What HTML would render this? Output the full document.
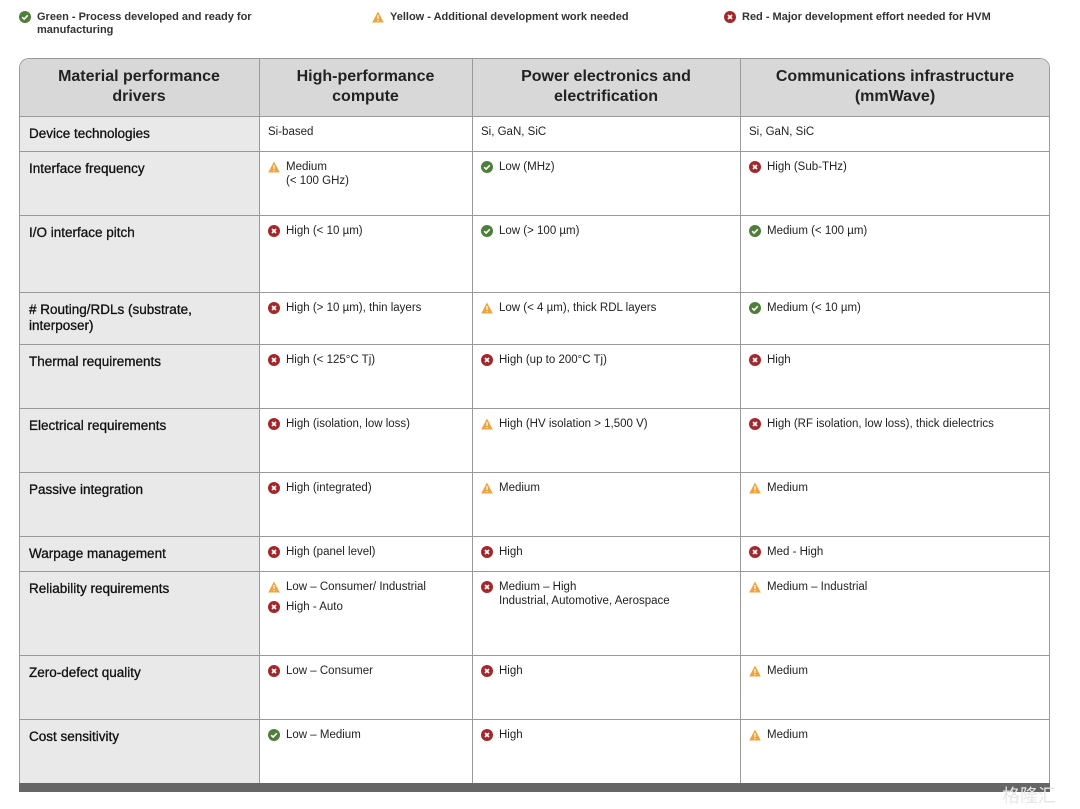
<!DOCTYPE html>
<html><head><meta charset="utf-8">
<style>
body{margin:0;width:1080px;height:809px;background:#fff;font-family:"Liberation Sans",sans-serif;color:#222;position:relative;overflow:hidden}
.abs{position:absolute}
.leg{font-size:11px;line-height:13px;font-weight:bold;color:#333}
.ic{position:absolute;width:12px;height:12px}
.hdr{font-size:16px;font-weight:bold;text-align:center;line-height:20px;color:#222}
.lbl{font-size:13.5px;color:#111;line-height:16px;font-weight:normal;-webkit-text-stroke:0.3px #111}
.cell{font-size:11.5px;line-height:14px;color:#222}
</style></head><body>
<div id="root"></div>
<script>
const colX=[19,259,472,740,1050];
const rowY=[58,116,151,215,292,344,408,472,536,571,655,719,783];
const headers=["Material performance<br>drivers","High-performance<br>compute","Power electronics and<br>electrification","Communications infrastructure<br>(mmWave)"];
const labels=["Device technologies","Interface frequency","I/O interface pitch","# Routing/RDLs (substrate,<br>interposer)","Thermal requirements","Electrical requirements","Passive integration","Warpage management","Reliability requirements","Zero-defect quality","Cost sensitivity"];
const cells=[
[[["","Si-based"]],[["","Si, GaN, SiC"]],[["","Si, GaN, SiC"]]],
[[["y","Medium<br>(< 100 GHz)"]],[["g","Low (MHz)"]],[["r","High (Sub-THz)"]]],
[[["r","High (< 10 µm)"]],[["g","Low (> 100 µm)"]],[["g","Medium (< 100 µm)"]]],
[[["r","High (> 10 µm), thin layers"]],[["y","Low (< 4 µm), thick RDL layers"]],[["g","Medium (< 10 µm)"]]],
[[["r","High (< 125°C Tj)"]],[["r","High (up to 200°C Tj)"]],[["r","High"]]],
[[["r","High (isolation, low loss)"]],[["y","High (HV isolation > 1,500 V)"]],[["r","High (RF isolation, low loss), thick dielectrics"]]],
[[["r","High (integrated)"]],[["y","Medium"]],[["y","Medium"]]],
[[["r","High (panel level)"]],[["r","High"]],[["r","Med - High"]]],
[[["y","Low – Consumer/ Industrial"],["r","High - Auto"]],[["r","Medium – High<br>Industrial, Automotive, Aerospace"]],[["y","Medium – Industrial"]]],
[[["r","Low – Consumer"]],[["r","High"]],[["y","Medium"]]],
[[["g","Low – Medium"]],[["r","High"]],[["y","Medium"]]]
];
function icon(t){
 if(t==="g")return '<svg class="ic" viewBox="0 0 12 12"><circle cx="6" cy="6" r="6" fill="#4f7d3b"/><path d="M3.2 6.2l1.9 1.9 3.7-3.8" stroke="#fff" stroke-width="1.6" fill="none"/></svg>';
 if(t==="y")return '<svg class="ic" viewBox="0 0 12 12"><path d="M6 0.5L11.8 11.5H0.2Z" fill="#f0a33a"/><rect x="5.4" y="4" width="1.2" height="4" fill="#fff"/><rect x="5.4" y="9" width="1.2" height="1.2" fill="#fff"/></svg>';
 return '<svg class="ic" viewBox="0 0 12 12"><circle cx="6" cy="6" r="6" fill="#a3272b"/><path d="M4 4l4 4M8 4l-4 4" stroke="#fff" stroke-width="1.6"/></svg>';
}
const root=document.getElementById('root');
let h='';
h+='<div class="abs leg" style="left:19px;top:11px;width:280px"><span style="position:absolute;left:0;top:0">'+icon("g")+'</span><div style="margin-left:18px">Green - Process developed and ready for manufacturing</div></div>';
h+='<div class="abs leg" style="left:372px;top:11px;width:320px"><span style="position:absolute;left:0;top:0">'+icon("y")+'</span><div style="margin-left:18px">Yellow - Additional development work needed</div></div>';
h+='<div class="abs leg" style="left:724px;top:11px;width:330px"><span style="position:absolute;left:0;top:0">'+icon("r")+'</span><div style="margin-left:18px">Red - Major development effort needed for HVM</div></div>';
h+='<div class="abs" style="left:19px;top:58px;width:1029px;height:730px;border:1px solid #999;border-top-left-radius:10px;border-top-right-radius:10px;border-bottom:none;overflow:hidden">';
h+='<div class="abs" style="left:0;top:0;width:1031px;height:58px;background:#d8d8d8"></div>';
h+='<div class="abs" style="left:0;top:58px;width:240px;height:680px;background:#e9e9e9"></div>';
h+='</div>';
root.innerHTML=h;
function add(html,x,y,w,hh,cls){const d=document.createElement('div');d.className='abs '+(cls||'');d.style.left=x+'px';d.style.top=y+'px';if(w)d.style.width=w+'px';if(hh)d.style.height=hh+'px';d.innerHTML=html;root.appendChild(d);return d;}
for(let i=1;i<colX.length-1;i++){const l=add('',colX[i],rowY[0],1,rowY[rowY.length-1]-rowY[0]);l.style.background='#999';

}
for(let j=1;j<rowY.length-1;j++){const l=add('',colX[0],rowY[j],colX[4]-colX[0],1);l.style.background='#999';

}
for(let i=0;i<4;i++){const d=add(headers[i],colX[i],rowY[0]+9,colX[i+1]-colX[i],null,'hdr');

}
for(let r=0;r<labels.length;r++){
 const y=rowY[r+1];
 const lb=add(labels[r],29,y+10,225,null,'lbl');
 
 
 for(let c=0;c<3;c++){
  const items=cells[r][c];
  let yy=y+9;
  items.forEach(it=>{
   const ic=it[0];
   const html=(ic?'<span style="position:absolute;left:0;top:1px">'+icon(ic)+'</span>':'')+'<div style="margin-left:'+(ic?18:0)+'px">'+it[1]+'</div>';
   const d=add(html,colX[c+1]+9,yy,colX[c+2]-colX[c+1]-12,null,'cell');
   
   
   yy+=20*(it[1].split('<br>').length)-(it[1].includes('<br>')?6:0);
  });
 }
}
const bar=add('',19,783,1031,9);bar.style.background='#666';


const wm=add('格隆汇',1002,782,80,null);wm.style.cssText+='font-family:"Liberation Sans","Noto Sans CJK SC",sans-serif;font-size:18px;color:#e6e6e6;';


</script>
</body></html>
